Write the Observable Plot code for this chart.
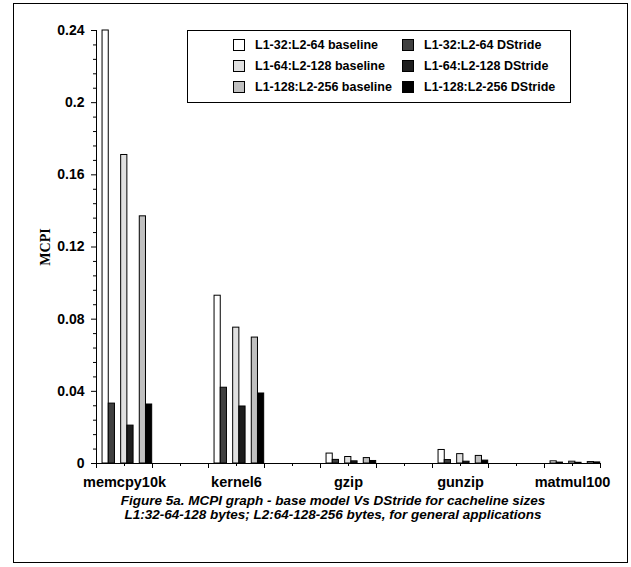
<!DOCTYPE html>
<html>
<head>
<meta charset="utf-8">
<script src="https://cdn.jsdelivr.net/npm/d3@7"></script>
<script src="https://cdn.jsdelivr.net/npm/@observablehq/plot@0.6"></script>
<style>
  body { margin: 0; background: #fff; font-family: "Liberation Sans", Arial, sans-serif; }
  #wrap { position: relative; width: 631px; height: 567px; overflow: hidden; background: #fff; }
  #frame { position: absolute; left: 13px; top: 3px; width: 615px; height: 560px; border: 1px solid #000; box-sizing: border-box; }
  #chart { position: absolute; left: 0; top: 0; }
  #legend { position: absolute; left: 187px; top: 30px; width: 384px; height: 73px; border: 1px solid #000; box-sizing: border-box;
            padding: 3px 0 0 45px; display: grid; grid-template-columns: 169px 169px; grid-auto-rows: 21px; font-weight: bold; font-size: 12.5px; }
  .item { display: flex; align-items: center; white-space: nowrap; }
  .sw { width: 12px; height: 12px; border: 1px solid #000; box-sizing: border-box; margin-right: 10px; flex: none; }
  #caption { position: absolute; left: 13px; width: 640px; top: 494px; text-align: center; font-weight: bold; font-style: italic;
             font-size: 13.5px; line-height: 14px; }
</style>
</head>
<body>
<div id="wrap">
  <div id="frame"></div>
  <div id="chart"></div>
  <div id="legend"></div>
  <div id="caption">Figure 5a. MCPI graph - base model Vs DStride for cacheline sizes<br>L1:32-64-128 bytes; L2:64-128-256 bytes, for general applications</div>
</div>
<script>
// ---- data ----
const benchmarks = ["memcpy10k", "kernel6", "gzip", "gunzip", "matmul100"];
const seriesNames = [
  "L1-32:L2-64 baseline", "L1-32:L2-64 DStride",
  "L1-64:L2-128 baseline", "L1-64:L2-128 DStride",
  "L1-128:L2-256 baseline", "L1-128:L2-256 DStride"
];
const seriesColors = ["#ffffff", "#404040", "#e0e0e0", "#1e1e1e", "#c0c0c0", "#000000"];
const base32    = [0.240,  0.093,  0.0055, 0.0075, 0.0012];
const dstride32 = [0.0332, 0.042,  0.0020, 0.0019, 0.0005];
const base64    = [0.171,  0.0753, 0.0036, 0.0052, 0.0010];
const dstride64 = [0.021,  0.0316, 0.0012, 0.0010, 0.0004];
const base128   = [0.137,  0.0698, 0.0030, 0.0042, 0.0008];
const dstride128= [0.0327, 0.0388, 0.0014, 0.0016, 0.0006];
const yTicks = [0, 0.04, 0.08, 0.12, 0.16, 0.2, 0.24];
const yLabel = "MCPI";

// ---- layout of bars inside a group (in group units) ----
const slot = 0.0554;       // width of one bar
const groupStart = -0.196; // offset of first bar from group centre
const seriesValues = [base32, dstride32, base64, dstride64, base128, dstride128];

const rows = [];
benchmarks.forEach((b, g) => {
  seriesValues.forEach((vals, s) => {
    const pair = Math.floor(s / 2), t = s % 2;
    const x1 = g + groupStart + (pair * 3 + t) * slot;
    rows.push({benchmark: b, series: seriesNames[s], color: seriesColors[s], value: vals[g], x1, x2: x1 + slot});
  });
});

const majorX = d3.range(0, 10).map(i => -0.25 + i * 0.5);
const minorX = d3.range(0, 9).map(i => i * 0.5);
const minorY = d3.range(0, 31).map(i => i * 0.008).filter(v => !yTicks.some(t => Math.abs(t - v) < 1e-9));

const chart = Plot.plot({
  width: 631,
  height: 500,
  marginLeft: 96,
  marginRight: 31,
  marginTop: 30,
  marginBottom: 37,
  x: {domain: [-0.25, 4.25], label: null},
  y: {domain: [0, 0.24], label: null},
  color: {type: "identity"},
  style: {fontFamily: "'Liberation Sans', Arial, sans-serif", fontWeight: "bold", fontSize: "14px", color: "#000", background: "transparent"},
  marks: [
    Plot.rect(rows, {x1: "x1", x2: "x2", y1: 0, y2: "value", fill: "color", stroke: "#000", strokeWidth: 1}),
    Plot.ruleY([0], {stroke: "#000"}),
    Plot.ruleX([-0.25], {stroke: "#000"}),
    Plot.axisY(yTicks, {tickSize: 5, tickPadding: 7, tickFormat: d3.format("~g"), label: null, fontSize: 14}),
    Plot.axisY(minorY, {tickSize: 3, tickFormat: () => "", label: null}),
    Plot.axisX(majorX, {tickSize: 5, tickFormat: () => "", label: null}),
    Plot.axisX(minorX, {tickSize: 3, tickFormat: () => "", label: null}),
    Plot.axisX([0, 1, 2, 3, 4], {tickSize: 0, tickPadding: 13, tickFormat: i => benchmarks[i], label: null, fontSize: 14.5}),
    Plot.text([yLabel], {frameAnchor: "left", rotate: -90, dx: -51, textAnchor: "middle",
                         fontFamily: "'Liberation Serif', 'Times New Roman', serif", fontWeight: "bold", fontSize: 14})
  ]
});
document.getElementById("chart").appendChild(chart);

// legend: rows = cache configuration, columns = baseline / DStride
const legend = document.getElementById("legend");
seriesNames.forEach((name, i) => {
  const div = document.createElement("div");
  div.className = "item";
  const sw = document.createElement("span");
  sw.className = "sw";
  sw.style.background = seriesColors[i];
  div.appendChild(sw);
  div.appendChild(document.createTextNode(name));
  legend.appendChild(div);
});
</script>
</body>
</html>
